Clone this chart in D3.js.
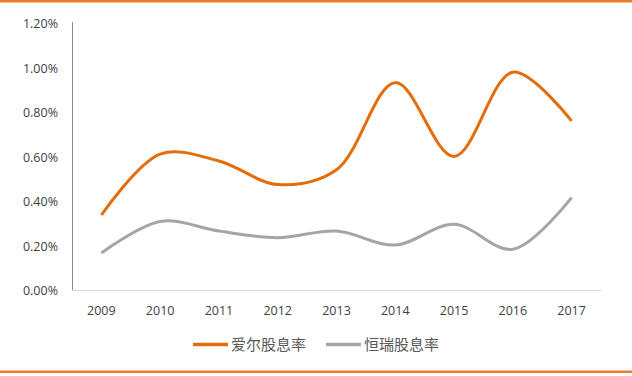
<!DOCTYPE html>
<html>
<head>
<meta charset="utf-8">
<script src="https://cdn.jsdelivr.net/npm/d3@7"></script>
<style>
  body { margin: 0; background: #fff; }
  svg { display: block; }
  .tick-label { font-family: "Open Sans", sans-serif; font-size: 12.5px; fill: #404040; }
  .legend-label { font-family: "Noto Sans CJK SC", sans-serif; font-size: 15px; fill: #595959; }
</style>
</head>
<body>
<svg id="chart" width="632" height="376"></svg>
<script>
const years = ["2009", "2010", "2011", "2012", "2013", "2014", "2015", "2016", "2017"];
const aierYield = [0.337, 0.611, 0.580, 0.474, 0.540, 0.932, 0.600, 0.979, 0.760];
const hengruiYield = [0.166, 0.308, 0.265, 0.235, 0.265, 0.202, 0.295, 0.183, 0.415];
const yTicks = [0, 0.2, 0.4, 0.6, 0.8, 1.0, 1.2];
const seriesNames = ["爱尔股息率", "恒瑞股息率"];
const seriesColors = ["#E46C0A", "#A5A5A5"];

const svg = d3.select("#chart");
const plotLeft = 72;
const plotRight = 601;
const plotTop = 23;
const plotBottom = 290;

const x = d3.scaleBand().domain(years).range([plotLeft, plotRight]);
const y = d3.scaleLinear().domain([0, 1.2]).range([plotBottom, plotTop]);

// orange rules at top and bottom of the slide
svg.append("rect").attr("x", 0).attr("y", 0).attr("width", 632).attr("height", 2.5).attr("fill", "#ED7D31");
svg.append("rect").attr("x", 0).attr("y", 370.5).attr("width", 632).attr("height", 2.5).attr("fill", "#ED7D31");

// axes
svg.append("line")
  .attr("x1", plotLeft + 0.5).attr("x2", plotLeft + 0.5)
  .attr("y1", plotTop - 1).attr("y2", plotBottom + 1)
  .attr("stroke", "#8c8c8c").attr("stroke-width", 1);

svg.append("line")
  .attr("x1", plotLeft).attr("x2", plotRight)
  .attr("y1", plotBottom + 0.5).attr("y2", plotBottom + 0.5)
  .attr("stroke", "#d9d9d9").attr("stroke-width", 1);

svg.append("g")
  .selectAll("text")
  .data(yTicks)
  .join("text")
  .attr("class", "tick-label")
  .attr("x", 58)
  .attr("y", (d) => y(d) + 5)
  .attr("text-anchor", "end")
  .text((d) => d.toFixed(2) + "%");

svg.append("g")
  .selectAll("text")
  .data(years)
  .join("text")
  .attr("class", "tick-label")
  .attr("x", (d) => x(d) + x.bandwidth() / 2)
  .attr("y", 315)
  .attr("text-anchor", "middle")
  .text((d) => d);

// smoothed lines
const line = d3.line()
  .x((d, i) => x(years[i]) + x.bandwidth() / 2)
  .y((d) => y(d))
  .curve(d3.curveCatmullRom.alpha(0.5));

[aierYield, hengruiYield].forEach((values, i) => {
  svg.append("path")
    .datum(values)
    .attr("fill", "none")
    .attr("stroke", seriesColors[i])
    .attr("stroke-width", 3)
    .attr("stroke-linejoin", "round")
    .attr("d", line);
});

// legend
const legendX = [193, 326];
seriesNames.forEach((name, i) => {
  svg.append("line")
    .attr("x1", legendX[i]).attr("x2", legendX[i] + 35)
    .attr("y1", 344.5).attr("y2", 344.5)
    .attr("stroke", seriesColors[i]).attr("stroke-width", 3.5);
  svg.append("text")
    .attr("class", "legend-label")
    .attr("x", legendX[i] + 38)
    .attr("y", 350)
    .text(name);
});
</script>
</body>
</html>
